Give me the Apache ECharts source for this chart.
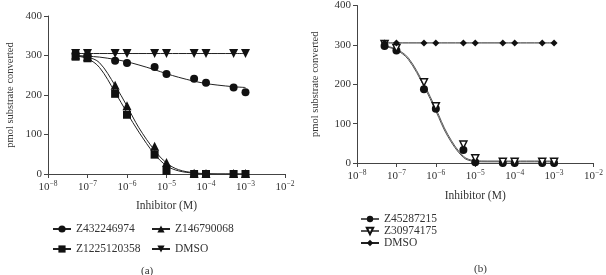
<!DOCTYPE html>
<html>
<head>
<meta charset="utf-8">
<script src="https://cdn.jsdelivr.net/npm/echarts@6/dist/echarts.min.js"></script>
<style>
html, body { margin: 0; padding: 0; background: #fff; }
#main { width: 606px; height: 275px; }
</style>
</head>
<body>
<div id="main"></div>
<script>
// 浓度 (M)
var conc = [5e-8, 1e-7, 5e-7, 1e-6, 5e-6, 1e-5, 5e-5, 1e-4, 5e-4, 1e-3];
var fitConc = [5e-8, 1e-7, 2e-7, 5e-7, 1e-6, 2e-6, 5e-6, 1e-5, 2e-5, 5e-5, 1e-4, 2e-4, 5e-4, 1e-3];

// (a) 测量点
var z432246974 = [306, 300, 287, 281, 271, 253, 241, 231, 219, 207];
var z146790068 = [301, 297, 225, 173, 70, 29, 2, 1, 1, 1];
var z1225120358 = [297, 293, 203, 150, 49, 8, 0, 0, 0, 0];
var dmsoA = [305, 305, 305, 305, 305, 305, 305, 305, 305, 305];
// (a) 拟合曲线
var fit432246974 = [299, 298, 296, 290, 284, 276, 264, 254, 245, 235, 229, 225, 221, 219];
var fit146790068 = [300, 296, 282, 224, 172, 117, 60, 28, 11, 3, 1, 0, 0, 0];
var fit1225120358 = [299, 292, 270, 207, 155, 106, 50, 21, 8, 2, 0, 0, 0, 0];
var fitDmsoA = [305, 305, 305, 305, 305, 305, 305, 305, 305, 305, 305, 305, 305, 305];

// (b) 测量点
var z45287215 = [297, 286, 187, 138, 33, 2, 0, 0, 0, 0];
var z30974175 = [302, 292, 205, 144, 47, 12, 3, 3, 3, 3];
var dmsoB = [305, 305, 305, 305, 305, 305, 305, 305, 305, 305];
// (b) 拟合曲线
var fit45287215 = [296, 287, 263, 195, 132, 68, 14, 4, 3, 3, 3, 3, 3, 3];
var fit30974175 = [298, 289, 267, 200, 138, 73, 17, 6, 5, 5, 5, 5, 5, 5];
var fitDmsoB = [305, 305, 305, 305, 305, 305, 305, 305, 305, 305, 305, 305, 305, 305];

var FONT = '"Liberation Serif", "DejaVu Serif", serif';
var INK = '#333';

function pairs(xs, ys) {
	return xs.map(function (x, i) { return [x, ys[i]]; });
}

function xAxisOf(idx, gap) {
	return {
		type: 'log',
		gridIndex: idx,
		logBase: 10,
		min: 1e-8,
		max: 1e-2,
		name: 'Inhibitor (M)',
		nameLocation: 'middle',
		nameGap: gap,
		nameTextStyle: { fontFamily: FONT, fontSize: 11.5, color: INK },
		axisLine: { lineStyle: { color: '#444', width: 1 } },
		axisTick: { inside: false, length: 4, lineStyle: { color: '#444' } },
		minorTick: { show: false },
		splitLine: { show: false },
		axisLabel: {
			margin: 6,
			fontFamily: FONT,
			color: INK,
			formatter: function (v) {
				var e = Math.round(Math.log(v) / Math.LN10);
				return '{b|10}{s|' + (e < 0 ? '\u2212' + (-e) : e) + '}';
			},
			rich: {
				b: { fontFamily: FONT, fontSize: 11, color: INK },
				s: { fontFamily: FONT, fontSize: 7.5, color: INK, verticalAlign: 'top', padding: [0, 0, 6, 0] }
			}
		}
	};
}

function yAxisOf(idx, gap) {
	return {
		type: 'value',
		gridIndex: idx,
		min: 0,
		max: 400,
		interval: 100,
		name: 'pmol substrate converted',
		nameLocation: 'middle',
		nameGap: gap,
		nameTextStyle: { fontFamily: FONT, fontSize: 10.5, color: INK },
		axisLine: { show: true, lineStyle: { color: '#444', width: 1 } },
		axisTick: { show: true, inside: false, length: 4, lineStyle: { color: '#444' } },
		splitLine: { show: false },
		axisLabel: { margin: 6, fontFamily: FONT, fontSize: 11, color: INK }
	};
}

function curve(name, idx, ys, symbol, rotate, color) {
	return {
		name: name,
		type: 'line',
		xAxisIndex: idx,
		yAxisIndex: idx,
		data: pairs(fitConc, ys),
		smooth: 0.35,
		showSymbol: false,
		symbol: symbol,
		symbolSize: 8,
		symbolRotate: rotate || 0,
		itemStyle: { color: '#111', borderColor: '#111', opacity: 1 },
		lineStyle: { color: color || '#222', width: 1 },
		silent: true,
		z: 2
	};
}

function points(name, idx, ys, symbol, rotate, size, empty) {
	return {
		name: name,
		type: 'scatter',
		xAxisIndex: idx,
		yAxisIndex: idx,
		data: pairs(conc, ys),
		symbol: symbol,
		symbolSize: size || 8,
		symbolRotate: rotate || 0,
		itemStyle: empty
			? { color: '#fff', borderColor: '#111', borderWidth: 1.5, opacity: 1 }
			: { color: '#111', opacity: 1 },
		z: 3
	};
}

var legendText = { fontFamily: FONT, fontSize: 11.5, color: INK };

var chart = echarts.init(document.getElementById('main'));

chart.setOption({
	animation: false,
	backgroundColor: '#fff',
	title: [
		{ text: '(a)', left: 136, top: 261, textStyle: { fontFamily: FONT, fontSize: 11, fontWeight: 'normal', color: INK } },
		{ text: '(b)', left: 469, top: 259, textStyle: { fontFamily: FONT, fontSize: 11, fontWeight: 'normal', color: INK } }
	],
	grid: [
		{ left: 48, right: 321, top: 16, bottom: 101 },
		{ left: 357, right: 9, top: 3, bottom: 112 }
	],
	xAxis: [xAxisOf(0, 26), xAxisOf(1, 27)],
	yAxis: [yAxisOf(0, 32), yAxisOf(1, 36)],
	legend: [
		{
			data: ['Z432246974', 'Z1225120358'],
			left: 47, top: 218, orient: 'vertical',
			itemWidth: 18, itemHeight: 9, itemGap: 8,
			textStyle: legendText,
			selectedMode: false
		},
		{
			data: ['Z146790068', 'DMSO'],
			left: 146, top: 218, orient: 'vertical',
			itemWidth: 18, itemHeight: 9, itemGap: 8,
			textStyle: legendText,
			selectedMode: false
		},
		{
			data: ['Z45287215', 'Z30974175', 'DMSO '],
			left: 355, top: 208, orient: 'vertical',
			itemWidth: 18, itemHeight: 8, itemGap: 0,
			textStyle: { fontFamily: FONT, fontSize: 11.5, color: INK, lineHeight: 12 },
			formatter: function (n) { return n.trim(); },
			selectedMode: false
		}
	],
	series: [
		curve('Z432246974', 0, fit432246974, 'circle'),
		curve('Z146790068', 0, fit146790068, 'triangle'),
		curve('Z1225120358', 0, fit1225120358, 'rect'),
		curve('DMSO', 0, fitDmsoA, 'triangle', 180),
		points('Z432246974', 0, z432246974, 'circle', 0, 8),
		points('Z146790068', 0, z146790068, 'triangle', 0, 9),
		points('Z1225120358', 0, z1225120358, 'rect', 0, 8),
		points('DMSO', 0, dmsoA, 'triangle', 180, 9),

		curve('Z45287215', 1, fit45287215, 'circle', 0, '#555'),
		curve('Z30974175', 1, fit30974175, 'emptyTriangle', 180, '#555'),
		curve('DMSO ', 1, fitDmsoB, 'diamond'),
		points('Z45287215', 1, z45287215, 'circle', 0, 8),
		points('Z30974175', 1, z30974175, 'triangle', 180, 7, true),
		points('DMSO ', 1, dmsoB, 'diamond', 0, 7)
	]
});
</script>
</body>
</html>
